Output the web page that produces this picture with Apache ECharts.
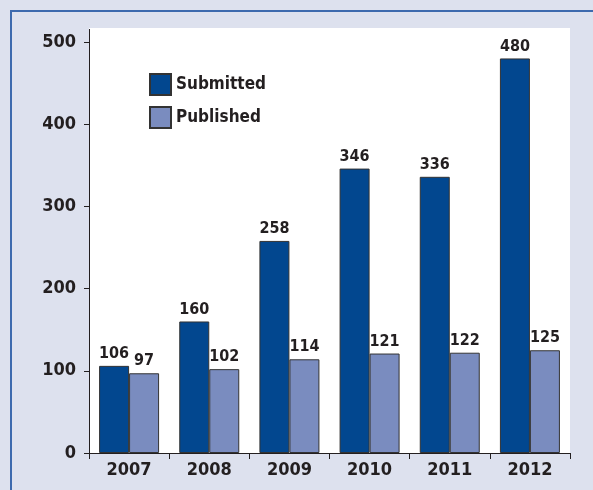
<!DOCTYPE html>
<html>
<head>
<meta charset="utf-8">
<script src="https://cdn.jsdelivr.net/npm/echarts@6/dist/echarts.min.js"></script>
<style>
  html, body { margin: 0; padding: 0; background: #dde1ee; }
  #chart { width: 593px; height: 490px; }
</style>
</head>
<body>
<div id="chart"></div>
<script>
const years = ['2007', '2008', '2009', '2010', '2011', '2012'];
const submitted = [106, 160, 258, 346, 336, 480];
const published = [97, 102, 114, 121, 122, 125];

const font = '"Liberation Sans Narrow", "DejaVu Sans Condensed", "Arial Narrow", sans-serif';
const ink = '#231f20';

let chart = echarts.init(document.getElementById('chart'));
chart.setOption({
  backgroundColor: '#dde1ee',
  animation: false,
  graphic: [
    // outer frame lines (top + left)
    { type: 'line', shape: { x1: 10, y1: 11, x2: 593, y2: 11 }, style: { stroke: '#3d6aae', lineWidth: 2 }, z: -10 },
    { type: 'line', shape: { x1: 11, y1: 11, x2: 11, y2: 490 }, style: { stroke: '#3d6aae', lineWidth: 2 }, z: -10 },
    // white plot panel
    { type: 'rect', shape: { x: 89, y: 28, width: 481, height: 425 }, style: { fill: '#ffffff' }, z: -10 },
    // axis line extension above 500
    { type: 'line', shape: { x1: 89.5, y1: 29, x2: 89.5, y2: 43 }, style: { stroke: ink, lineWidth: 1 }, z: 5 }
  ],
  legend: {
    left: 149,
    top: 73,
    padding: 0,
    orient: 'vertical',
    itemWidth: 21,
    itemHeight: 21,
    itemGap: 10,
    icon: 'rect',
    textStyle: { fontFamily: font, fontWeight: 'bold', fontSize: 17, color: ink, padding: [0, 0, 0, 0] },
    data: ['Submitted', 'Published']
  },
  grid: { left: 89, right: 23, top: 42, bottom: 37 },
  xAxis: {
    type: 'category',
    data: years,
    axisLine: { lineStyle: { color: ink, width: 1 } },
    axisTick: { show: true, length: 6, lineStyle: { color: ink } },
    axisLabel: { fontFamily: font, fontWeight: 'bold', fontSize: 18, color: ink, margin: 8 }
  },
  yAxis: {
    type: 'value',
    min: 0,
    max: 500,
    interval: 100,
    splitLine: { show: false },
    axisLine: { show: true, lineStyle: { color: ink, width: 1 } },
    axisTick: { show: true, length: 5, lineStyle: { color: ink } },
    axisLabel: { fontFamily: font, fontWeight: 'bold', fontSize: 18, color: ink, margin: 13 }
  },
  series: [
    {
      name: 'Submitted',
      type: 'bar',
      data: submitted,
      barWidth: 30,
      barGap: '0%',
      itemStyle: { color: '#02478f', borderColor: '#333333', borderWidth: 1 },
      label: { show: true, position: 'top', distance: 4, fontFamily: font, fontWeight: 'bold', fontSize: 16, color: ink }
    },
    {
      name: 'Published',
      type: 'bar',
      data: published,
      barWidth: 30,
      barGap: '0%',
      itemStyle: { color: '#7a8cbf', borderColor: '#333333', borderWidth: 1 },
      label: { show: true, position: 'top', distance: 4, fontFamily: font, fontWeight: 'bold', fontSize: 16, color: ink }
    }
  ]
});
</script>
</body>
</html>
